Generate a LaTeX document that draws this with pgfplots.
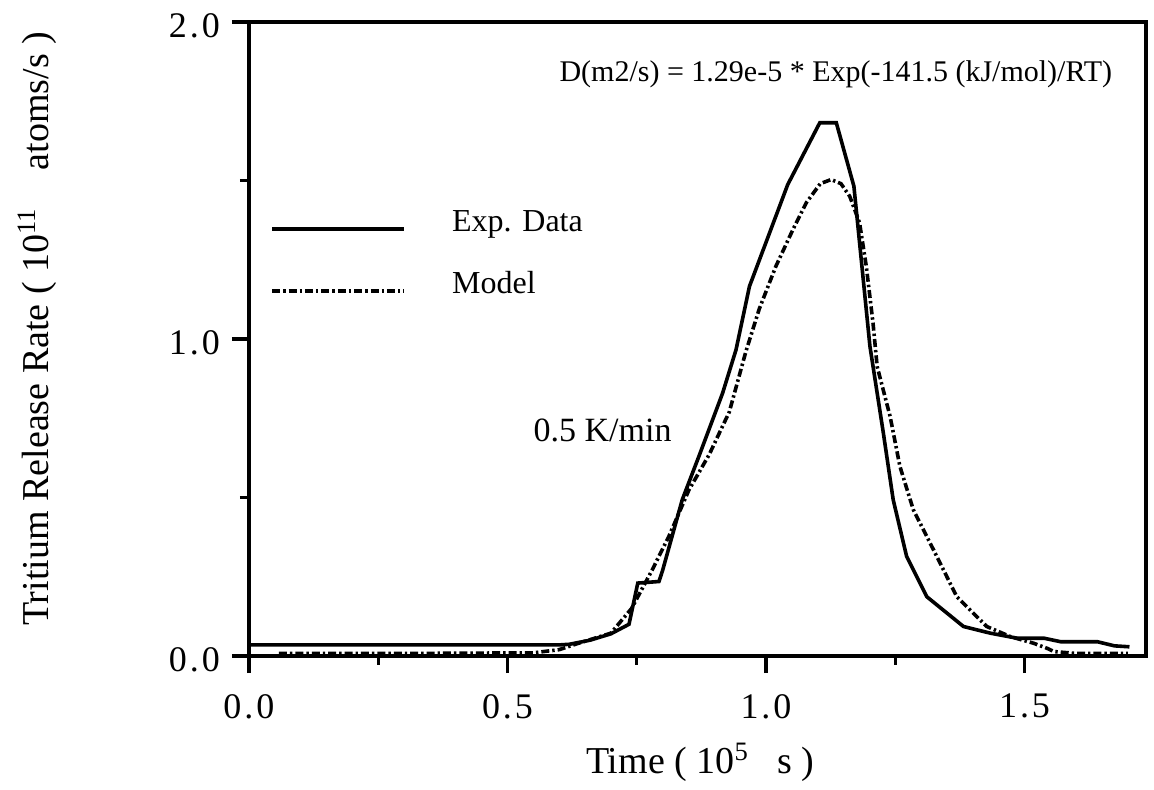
\documentclass[border=0pt]{standalone}
\usepackage{pgfplots}
\pgfplotsset{compat=1.18}
\usepackage{fontspec}
\setmainfont{Liberation Serif}
\begin{document}
\begin{tikzpicture}
\begin{axis}[name=ax, scale only axis, width=448.5pt, height=317pt,
  xmin=0, xmax=1.735, ymin=0, ymax=2,
  xtick={0,0.5,1.0,1.5}, xticklabels={0\kern1.5pt.\kern1.5pt0,0\kern1.5pt.\kern1.5pt5,1\kern1.5pt.\kern1.5pt0,1\kern1.5pt.\kern1.5pt5},
  minor xtick={0.25,0.75,1.25},
  ytick={0,1,2}, yticklabels={0\kern1.5pt.\kern1.5pt0,1\kern1.5pt.\kern1.5pt0,2\kern1.5pt.\kern1.5pt0},
  minor ytick={0.5,1.5},
  tick align=outside, xtick pos=bottom, ytick pos=left,
  major tick length=8.5pt, minor tick length=4.5pt,
  axis line style={line width=1.8pt},
  every tick/.style={line width=1.6pt, black},
  ticklabel style={font=\fontsize{18}{18}\selectfont},
  xticklabel style={yshift=-7pt},
  yticklabel style={xshift=-2.5pt, yshift=-2pt},
  xlabel={Time ( 10\textsuperscript{5}\ \ \ s )},
  ylabel={Tritium Release Rate ( 10\textsuperscript{11}\ \ \ \ atoms/s )},
  label style={font=\fontsize{19}{19}\selectfont},
  xlabel style={at={(rel axis cs:0.503,-0.168)}, anchor=center},
  ylabel style={at={(rel axis cs:-0.236,0.516)}, anchor=center},
  legend style={draw=none, fill=none, at={(rel axis cs:0.0234,0.714)}, anchor=north west,
    font=\fontsize{16}{16}\selectfont, row sep=11pt, inner sep=0pt,
    nodes={text height=12pt, text depth=4pt}},
  legend cell align=left,
  legend image code/.code={\draw[#1] (0pt,-2.5pt) -- (66pt,-2.5pt); \path[draw=none,fill=none] (88pt,0pt);},
  clip=false,
]
\addplot[black, line width=1.8pt] coordinates {
(0,0.035) (0.60,0.035) (0.62,0.037) (0.66,0.05) (0.70,0.07) (0.735,0.10)
(0.752,0.23) (0.793,0.235) (0.80,0.27) (0.838,0.493) (0.870,0.629) (0.916,0.829)
(0.942,0.966) (0.968,1.166) (1.042,1.487) (1.104,1.682) (1.136,1.682) (1.170,1.482)
(1.201,0.977) (1.227,0.703) (1.246,0.493) (1.272,0.314) (1.311,0.187) (1.382,0.093)
(1.434,0.072) (1.486,0.056) (1.538,0.056) (1.570,0.045) (1.641,0.045) (1.674,0.032)
(1.703,0.029)};
\addlegendentry{Exp. Data}
\addplot[black, line width=1.8pt, dash pattern=on 4pt off 1.5pt on 1.2pt off 1.5pt] coordinates {
(0.058,0.008) (0.30,0.008) (0.55,0.01) (0.60,0.02) (0.637,0.04) (0.70,0.072) (0.74,0.15)
(0.780,0.272) (0.812,0.377) (0.851,0.524) (0.890,0.635) (0.929,0.770) (0.961,0.960)
(0.987,1.095) (1.019,1.229) (1.052,1.345) (1.078,1.43) (1.105,1.49) (1.126,1.503)
(1.145,1.49) (1.162,1.450) (1.181,1.366) (1.194,1.229) (1.207,1.050) (1.215,0.913)
(1.240,0.756) (1.259,0.598) (1.285,0.461) (1.324,0.335) (1.369,0.187) (1.427,0.093)
(1.473,0.061) (1.518,0.040) (1.544,0.024) (1.557,0.014) (1.60,0.008) (1.70,0.008)};
\addlegendentry{Model}
\node[font=\fontsize{15}{15}\selectfont] at (axis cs:1.135,1.835) {D(m2/s) = 1.29e-5 * Exp(-141.5 (kJ/mol)/RT)};
\node[font=\fontsize{17}{17}\selectfont, anchor=base east, inner sep=0pt] at (axis cs:0.818,0.676) {0.5 K/min};
\end{axis}
\pgfresetboundingbox
\path (ax.south west) ++(-124.5pt,-67pt) rectangle ++(577pt,395pt);
\end{tikzpicture}
\end{document}
